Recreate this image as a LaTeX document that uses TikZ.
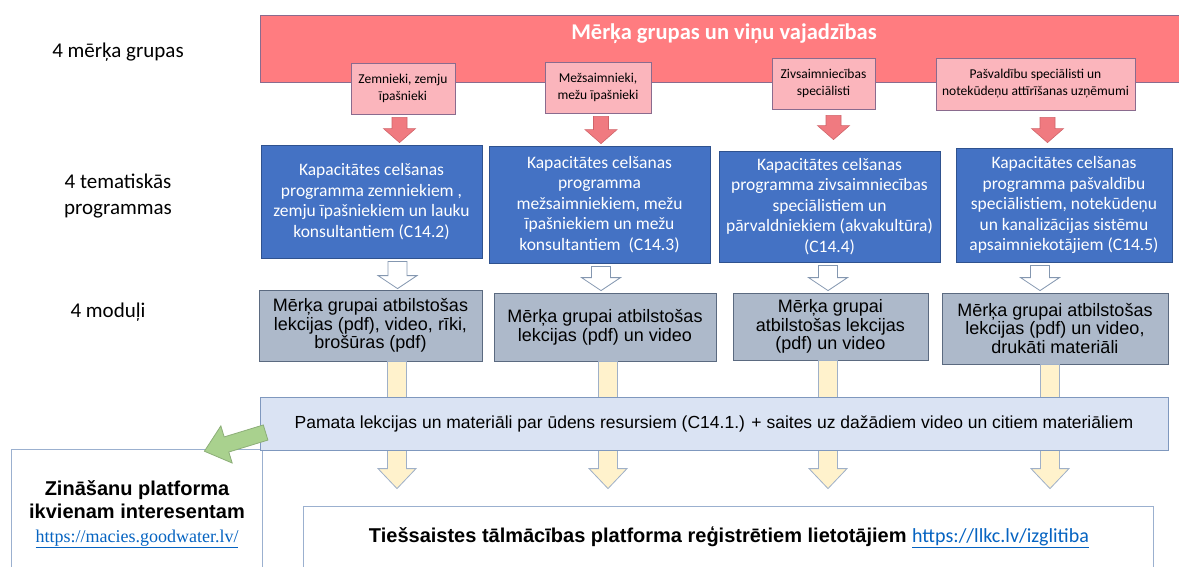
\documentclass[tikz,border=0pt]{standalone}
\usepackage{fontspec}
\setmainfont{Carlito}
\newfontfamily\arialfont{Liberation Sans}
\newfontfamily\timesfont{Liberation Serif}
\usetikzlibrary{positioning}
\usetikzlibrary{calc}
\usetikzlibrary{shapes.arrows}

\definecolor{bannerred}{HTML}{FF7C80}
\definecolor{bannerline}{HTML}{8A6B8E}
\definecolor{grouppink}{HTML}{FBB5BC}
\definecolor{arrowred}{HTML}{F07A80}
\definecolor{arrowredline}{HTML}{D0646A}
\definecolor{progblue}{HTML}{4472C4}
\definecolor{progline}{HTML}{2F528F}
\definecolor{modfill}{HTML}{ADB9CA}
\definecolor{modline}{HTML}{5B6A80}
\definecolor{hollowline}{HTML}{8497B0}
\definecolor{yellowfill}{HTML}{FFF2CC}
\definecolor{yellowline}{HTML}{9FB0C8}
\definecolor{basefill}{HTML}{DAE3F3}
\definecolor{baseline}{HTML}{7F98BE}
\definecolor{greenfill}{HTML}{A9D18E}
\definecolor{greenline}{HTML}{8CAE78}
\definecolor{platline}{HTML}{9BB0CF}
\definecolor{linkblue}{HTML}{0563C1}

% vertical block arrow: [style]{from}{to}{shaft half}{head half}{head length}
\newcommand{\blockarrow}[6][]{%
  \draw[#1] let \p1=(#2), \p2=(#3) in
    (\x1-#4,\y1) -- (\x1+#4,\y1) -- (\x1+#4,\y2+#6) -- (\x1+#5,\y2+#6)
    -- (\x1,\y2) -- (\x1-#5,\y2+#6) -- (\x1-#4,\y2+#6) -- cycle;}

\begin{document}
\begin{tikzpicture}[x=1pt,y=-1pt,
    every node/.style={inner sep=0pt,align=center},
    side/.style={font=\fontsize{21}{26}\selectfont},
    banner/.style={draw=bannerline,fill=bannerred,line width=0.8pt},
    bantitle/.style={text=white,font=\bfseries\fontsize{22.5}{26}\selectfont},
    groupbox/.style={draw=bannerline,fill=grouppink,line width=0.8pt,font=\fontsize{13.5}{17}\selectfont},
    progbox/.style={draw=progline,fill=progblue,line width=0.8pt,text=white,font=\fontsize{17.5}{20.5}\selectfont},
    modbox/.style={draw=modline,fill=modfill,line width=0.8pt,font=\arialfont\fontsize{18}{18.8}\selectfont},
    basebox/.style={draw=baseline,fill=basefill,line width=0.8pt,font=\arialfont\fontsize{17.5}{19}\selectfont},
    platbox/.style={draw=platline,line width=0.8pt},
    redarrow/.style={draw=arrowredline,fill=arrowred,line width=0.6pt},
    hollowarrow/.style={draw=hollowline,fill=white,line width=0.8pt},
    yellowarrow/.style={draw=yellowline,fill=yellowfill,line width=0.8pt},
    greenarrow/.style={single arrow,draw=greenline,fill=greenfill,line width=0.8pt,
      inner xsep=0pt,inner ysep=7.5pt,minimum height=64pt,minimum width=38pt,
      single arrow head extend=11.5pt,single arrow tip angle=80}]
\useasboundingbox (0,0) rectangle (1179,567);

% row labels
\node[side] (lab1) at (118,52) {4 mērķa grupas};
\node[side] (lab2) at (118,196) {4 tematiskās\\programmas};
\node[side] (lab3) at (108,312) {4 moduļi};

% target groups
\node[banner,minimum width=925pt,minimum height=67pt] (ban) at (722.5,48.5) {};
\node[bantitle] (bant) at (724,34) {Mērķa grupas un viņu vajadzības};
\node[groupbox,minimum width=104pt,minimum height=51pt] (g1) at (403,88.5) {Zemnieki, zemju\\īpašnieki};
\node[groupbox,minimum width=106pt,minimum height=51pt] (g2) at (598,87.5) {Mežsaimnieki,\\mežu īpašnieki};
\node[groupbox,minimum width=103pt,minimum height=51pt] (g3) at (823.5,83.5) {Zivsaimniecības\\speciālisti};
\node[groupbox,minimum width=199pt,minimum height=52pt] (g4) at (1035.5,84) {Pašvaldību speciālisti un\\notekūdeņu attīrīšanas uzņēmumi};

% programmes
\node[progbox,minimum width=221pt,minimum height=113pt] (k1) at (371.5,201.5) {Kapacitātes celšanas\\programma zemniekiem ,\\zemju īpašniekiem un lauku\\konsultantiem (C14.2)};
\node[progbox,minimum width=221pt,minimum height=117pt] (k2) at (599.5,204.5) {Kapacitātes celšanas\\programma\\mežsaimniekiem, mežu\\īpašniekiem un mežu\\konsultantiem~~(C14.3)};
\node[progbox,minimum width=221pt,minimum height=111pt] (k3) at (829.5,206.5) {Kapacitātes celšanas\\programma zivsaimniecības\\speciālistiem un\\pārvaldniekiem (akvakultūra)\\(C14.4)};
\node[progbox,minimum width=216pt,minimum height=114pt] (k4) at (1064,205) {Kapacitātes celšanas\\programma pašvaldību\\speciālistiem, notekūdeņu\\un kanalizācijas sistēmu\\apsaimniekotājiem (C14.5)};

% modules
\node[modbox,minimum width=223pt,minimum height=71pt] (m1) at (370.5,325.5) {Mērķa grupai atbilstošas\\lekcijas (pdf), video, rīki,\\brošūras (pdf)};
\node[modbox,minimum width=222pt,minimum height=68pt] (m2) at (605,327) {Mērķa grupai atbilstošas\\lekcijas (pdf) un video};
\node[modbox,minimum width=195pt,minimum height=67pt] (m3) at (830.5,326.5) {Mērķa grupai\\atbilstošas lekcijas\\(pdf) un video};
\node[modbox,minimum width=226pt,minimum height=71pt] (m4) at (1055,328.5) {Mērķa grupai atbilstošas\\lekcijas (pdf) un video,\\drukāti materiāli};

% platforms
\node[platbox,minimum width=251pt,minimum height=132pt] (plat) at (136.5,515) {};
\node[font=\arialfont\bfseries\fontsize{20}{23.5}\selectfont] (platt) at (137,514)
  {Zināšanu platforma\\ikvienam interesentam\\{\timesfont\mdseries\fontsize{18}{20}\selectfont\color{linkblue}\underline{https://macies.goodwater.lv/}}};
\node[platbox,minimum width=850pt,minimum height=74pt] (bot) at (728,543) {};
\node[font=\fontsize{20}{22}\selectfont] (bott) at (729,537) {{\arialfont\bfseries Tiešsaistes tālmācības platforma reģistrētiem lietotājiem }{\color{linkblue}\underline{https://llkc.lv/izglitiba}}};

% arrows between the rows
\foreach \g/\k/\dx/\s/\e in {g1/k1/-3.5/3/2, g2/k2/3/3/2, g3/k3/10/6/11, g4/k4/12/7/5}
  {\blockarrow[redarrow]{$(\g.south)+(\dx,\s)$}{$(\k.north)+(0,-\e)$}{7.5pt}{16pt}{14pt}}
\foreach \k/\m/\dx/\e in {k1/m1/26/1, k2/m2/1.5/2, k3/m3/-1.5/2, k4/m4/-24/2}
  {\blockarrow[hollowarrow]{$(\k.south)+(\dx,3)$}{$(\m.north)+(0,-\e)$}{9.5pt}{19.5pt}{13pt}}
\foreach \m/\dx in {m1/26.5, m2/3, m3/-2.5, m4/-5}
  {\blockarrow[yellowarrow]{$(\m.south)+(\dx,0)$}{$(bot.north)+(0,-17)$}{9.5pt}{19pt}{20pt}}

% basic lectures
\node[basebox,minimum width=908pt,minimum height=53pt] (base) at (714,423.5)
  {Pamata lekcijas un materiāli par ūdens resursiem (C14.1.) + saites uz dažādiem video un citiem materiāliem};
\node[greenarrow,rotate=197] (gre) at (239.5,440.5) {};
\end{tikzpicture}
\end{document}
